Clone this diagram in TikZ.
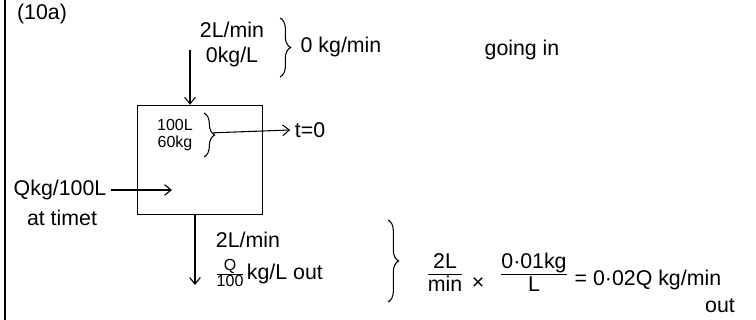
\documentclass[tikz,border=0pt]{standalone}
\usepackage{fontspec}
\setmainfont{Liberation Sans}
\usetikzlibrary{positioning,arrows.meta,decorations.pathreplacing}
\newcommand{\hfrac}[2]{\begin{tabular}{@{}c@{}}#1\\[-1pt]\hline #2\end{tabular}}
\begin{document}
\begin{tikzpicture}[x=0.75pt,y=-0.75pt,font=\fontsize{16}{18}\selectfont,
    flow/.style={thick,-{Straight Barb[length=5pt,width=8pt]}},
    curly/.style={thick,decorate,decoration={brace,amplitude=8pt}},
    small/.style={font=\fontsize{12}{13}\selectfont,inner sep=1pt}]
    \useasboundingbox (0,0) rectangle (756,320);

    % Margin line and part label
    \draw[thick] (5,0) -- (5,320);
    \node (part) at (42,14) {(10a)};

    % Define the tank
    \node[draw,thick,minimum width=94pt,minimum height=82pt] (tank) at (200,160) {};
    \node[small] (vol) at (175,125) {100L};
    \node[small] (mass) at (175,143) {60kg};
    \draw[curly] (204,113) -- (204,157) coordinate[pos=0.45] (tankbr);
    \node (start) at (310,130) {t=0};
    \draw[flow] ([xshift=7pt]tankbr) -- (start.west);

    % Flow going in
    \coordinate (intop) at (190,50);
    \node (inrate) at (232,30) {2L/min};
    \node (inconc) at (232,57) {0kg/L};
    \draw[curly] (280,18) -- (280,77);
    \node[anchor=west] (inflow) at (296,47) {0 kg/min};
    \node (going) at (522,50) {going in};
    \draw[flow] (intop) -- (intop |- tank.north);

    % Salt at time t
    \node (salt) at (60,190) {Qkg/100L};
    \node (timet) at (62,218) {at timet};
    \coordinate (saltin) at (172,190);
    \draw[flow] (salt.east) -- (saltin);

    % Flow going out
    \coordinate (outend) at (195,285);
    \draw[flow] (tank.south -| outend) -- (outend);
    \node (outrate) at (248,240) {2L/min};
    \node[anchor=west] (outconc) at (212,275)
        {{\fontsize{12}{13}\selectfont\hfrac{Q}{100}}\,kg/L out};
    \draw[curly] (388,220) -- (388,302);
    \node (ratefrac) at (445,275) {\hfrac{2L}{min}};
    \node (times) at (478,284) {×};
    \node (concfrac) at (534,275) {\hfrac{0·01kg}{L}};
    \node[anchor=west] (result) at (570,280) {= 0·02Q kg/min};
    \node (out) at (720,306) {out};

\end{tikzpicture}
\end{document}
